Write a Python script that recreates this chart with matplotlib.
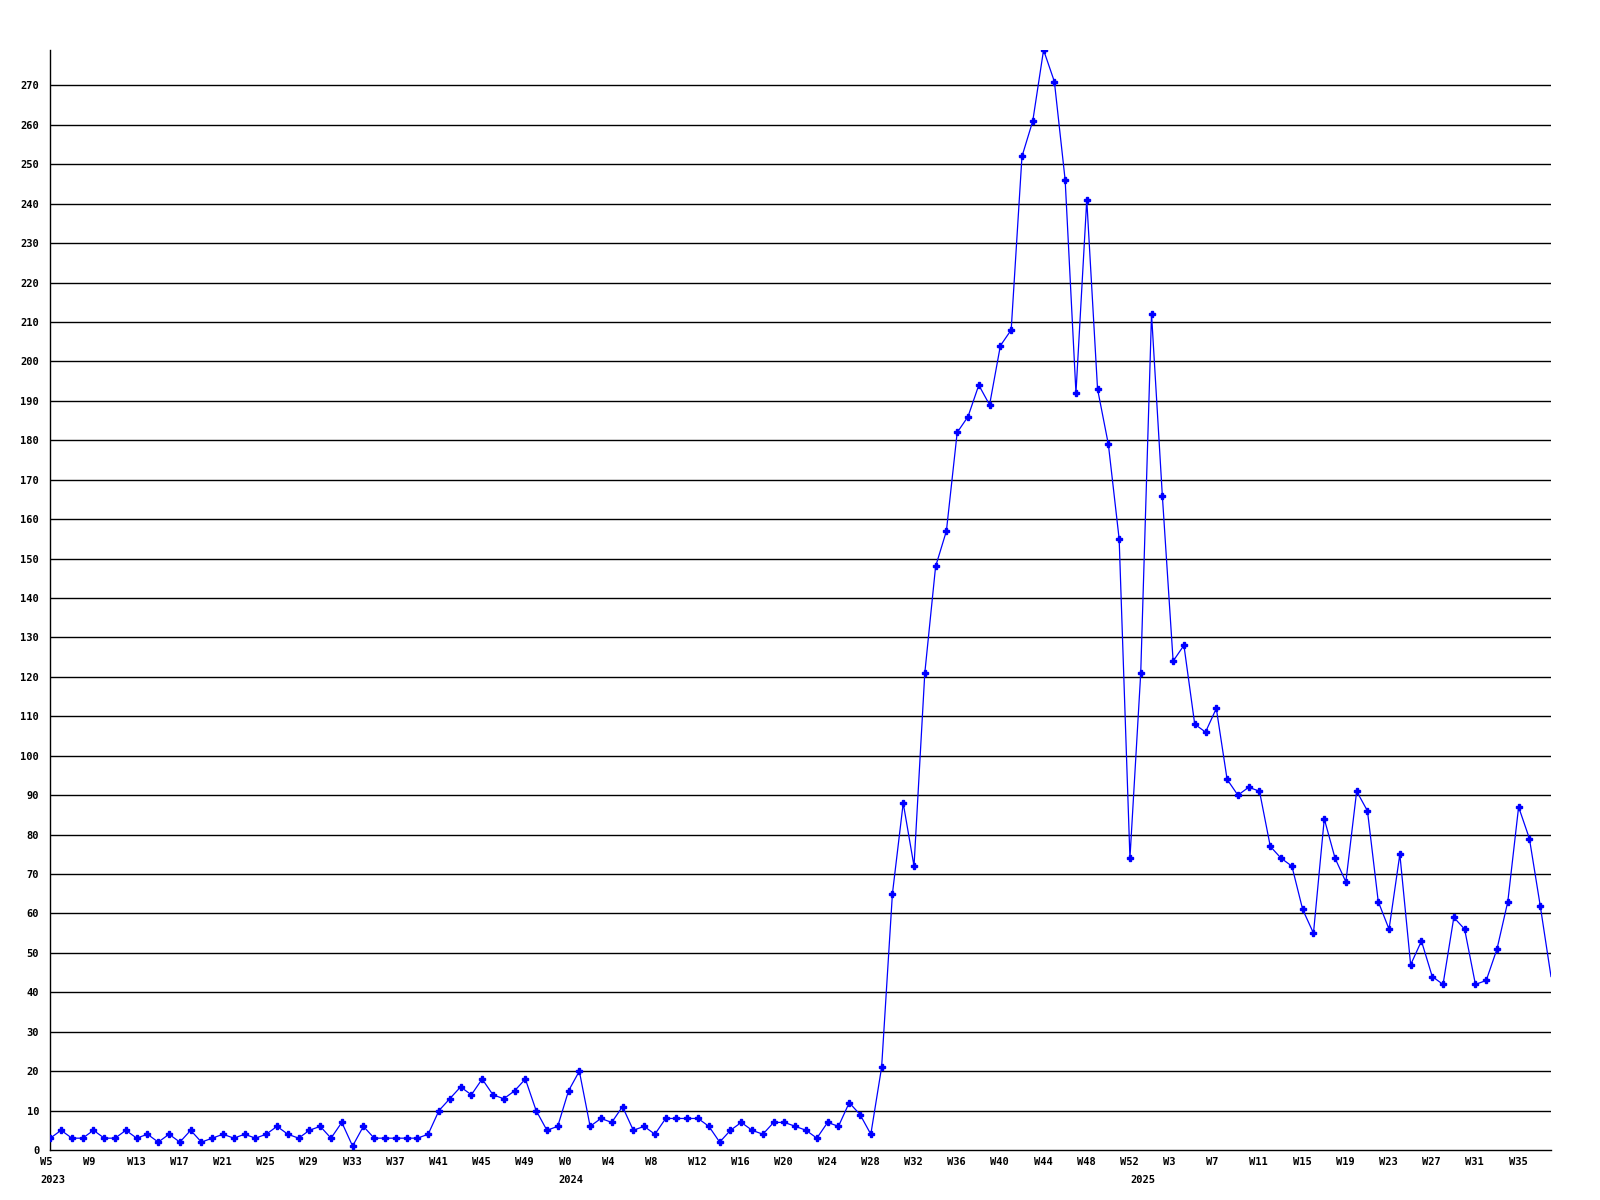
import numpy as np
import matplotlib
matplotlib.use("Agg")
from matplotlib import pyplot as plt
from matplotlib.transforms import ScaledTranslation

# weekly counts, one per week starting at W5 2023
counts_2023 = [3, 5, 3, 3, 5, 3, 3, 5, 3, 4, 2, 4, 2, 5, 2, 3, 4, 3, 4, 3,
               4, 6, 4, 3, 5, 6, 3, 7, 1, 6, 3, 3, 3, 3, 3, 4, 10, 13,
               16, 14, 18, 14, 13, 15, 18, 10, 5, 6]
counts_2024 = [15, 20, 6, 8, 7, 11, 5, 6, 4, 8, 8, 8, 8, 6, 2, 5, 7, 5, 4, 7,
               7, 6, 5, 3, 7, 6, 12, 9, 4, 21, 65, 88, 72, 121, 148, 157,
               182, 186, 194, 189, 204, 208, 252, 261, 279, 271, 246, 192,
               241, 193, 179, 155, 74]
counts_2025 = [121, 212, 166, 124, 128, 108, 106, 112, 94, 90, 92, 91, 77, 74,
               72, 61, 55, 84, 74, 68, 91, 86, 63, 56, 75, 47, 53, 44, 42, 59,
               56, 42, 43, 51, 63, 87, 79, 62, 44]

week_labels = ["W5", "W9", "W13", "W17", "W21", "W25", "W29", "W33", "W37",
               "W41", "W45", "W49", "W0", "W4", "W8", "W12", "W16", "W20",
               "W24", "W28", "W32", "W36", "W40", "W44", "W48", "W52", "W3",
               "W7", "W11", "W15", "W19", "W23", "W27", "W31", "W35"]
year_labels = ["2023", "2024", "2025"]

values = np.array(counts_2023 + counts_2024 + counts_2025)
x = np.arange(len(values))

# tick positions: every 4th week from the first, and week 0 of each year
tick_pos = np.arange(0, 4 * len(week_labels), 4)
year_pos = [0, len(counts_2023), len(counts_2023) + len(counts_2024)]

plt.rcParams["font.family"] = "DejaVu Sans Mono"
plt.rcParams["font.weight"] = "bold"

W, H = 1600, 1200
fig = plt.figure(figsize=(W / 100, H / 100), dpi=100)
ax = fig.add_axes([50.3 / W, 1 - 1150 / H, (1551 - 50.3) / W, 1100 / H])

ax.set_xlim(0, len(values) - 1)
ax.set_ylim(0, values.max())

for v in range(10, 280, 10):
    ax.axhline(v, color="black", lw=1.0, zorder=1)

ax.plot(x, values, color="#0000ff", lw=0.9, marker="P", markersize=3.8,
        markevery=slice(0, len(values) - 1), zorder=5)

for s in ["top", "right"]:
    ax.spines[s].set_visible(False)
ax.spines["left"].set_linewidth(1.0)
ax.spines["bottom"].set_linewidth(1.0)

ax.set_yticks(np.arange(0, 280, 10))
ax.set_yticklabels([str(v) for v in range(0, 280, 10)], fontsize=7.5)
ax.tick_params(axis="y", length=0, pad=8)

ax.xaxis.remove_overlapping_locs = False
ax.set_xticks(tick_pos)
ax.set_xticklabels(week_labels, fontsize=7.5, ha="left")
ax.set_xticks(year_pos, minor=True)
ax.set_xticklabels(year_labels, minor=True, fontsize=7.5, ha="left")
ax.tick_params(axis="x", which="major", length=0, pad=5)
ax.tick_params(axis="x", which="minor", length=0, pad=18)

shift = ScaledTranslation(-10 / 100, 0, fig.dpi_scale_trans)
for lab in ax.get_xticklabels(which="both"):
    lab.set_transform(lab.get_transform() + shift)

fig.savefig("out.png", dpi=100, facecolor="white")
